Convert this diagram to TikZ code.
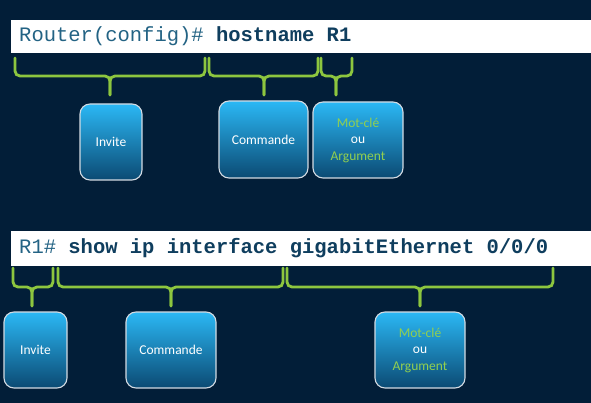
\documentclass[tikz,border=0pt]{standalone}
\usepackage{fontspec}
\usepackage{tikz}
\usepackage{xcolor}
\usetikzlibrary{positioning}
\newfontfamily\boxfont{Carlito}
\newfontfamily\clifont{Liberation Mono}
\definecolor{CLI_Bg}{HTML}{021E38}
\definecolor{CLI_Green}{HTML}{8DC63F}
\definecolor{CLI_Prompt}{HTML}{236384}
\definecolor{CLI_Cmd}{HTML}{0F3E5E}
\definecolor{Box_Top}{HTML}{2BB8F5}
\definecolor{Box_Mid}{HTML}{0A7DBE}
\definecolor{Box_Bot}{HTML}{0B4A73}
\definecolor{Box_Edge}{HTML}{D3DBE3}
\definecolor{Box_Key}{HTML}{92D050}

\begin{document}
\begin{tikzpicture}[x=1pt, y=-1pt,
    clibar/.style={fill=white, draw=none},
    clitext/.style={anchor=base west, inner sep=0pt, font=\clifont\fontsize{20.5}{24}\selectfont},
    part/.style={draw=Box_Edge, line width=1.1pt, rounded corners=10pt,
        top color=Box_Top, middle color=Box_Mid, bottom color=Box_Bot,
        text=white, align=center, inner sep=0pt,
        font=\boxfont\fontsize{13.5}{16.5}\selectfont},
    brace/.style={CLI_Green, line width=2.8pt, rounded corners=5pt, line cap=round}]

    % background and page size
    \fill[CLI_Bg] (0,0) rectangle (591,403);

    % Command lines
    \fill[clibar] (11,20) rectangle (591,53);
    \fill[clibar] (11,231) rectangle (591,266);
    \node[clitext] (cmdone) at (19,42)
        {\color{CLI_Prompt}Router(config)\#\ \bfseries\color{CLI_Cmd}hostname R1};
    \node[clitext] (cmdtwo) at (19,253)
        {\color{CLI_Prompt}R1\#\ \bfseries\color{CLI_Cmd}show ip interface gigabitEthernet 0/0/0};

    % Braces: left, right, tip, top, middle, bottom
    \foreach \l/\r/\t/\a/\m/\b in {
        15/205/110/58/76/95,
        209/318/264/58/76/95,
        321/352/336/58/76/95,
        13/53/32/268/287/306,
        58/283/171/268/287/306,
        287/553/420/268/287/306
    } {
        \draw[brace] (\l,\a) -- (\l,\m) -- (\t,\m) -- (\t,\b);
        \draw[brace] (\r,\a) -- (\r,\m) -- (\t,\m) -- (\t,\b);
    }

    % Row 1 boxes
    \node[part, minimum width=62pt, minimum height=76pt] (inviteA) at (111,142) {Invite};
    \node[part, minimum width=89pt, minimum height=77pt] (commandeA) at (263.5,139.5) {Commande};
    \node[part, minimum width=90pt, minimum height=76pt] (motcleA) at (358,140)
        {\textcolor{Box_Key}{Mot-clé}\\ou\\\textcolor{Box_Key}{Argument}};

    % Row 2 boxes
    \node[part, minimum width=63pt, minimum height=76pt] (inviteB) at (35.5,350) {Invite};
    \node[part, minimum width=90pt, minimum height=76pt] (commandeB) at (171,350) {Commande};
    \node[part, minimum width=90pt, minimum height=76pt] (motcleB) at (420,350)
        {\textcolor{Box_Key}{Mot-clé}\\ou\\\textcolor{Box_Key}{Argument}};
\end{tikzpicture}
\end{document}
